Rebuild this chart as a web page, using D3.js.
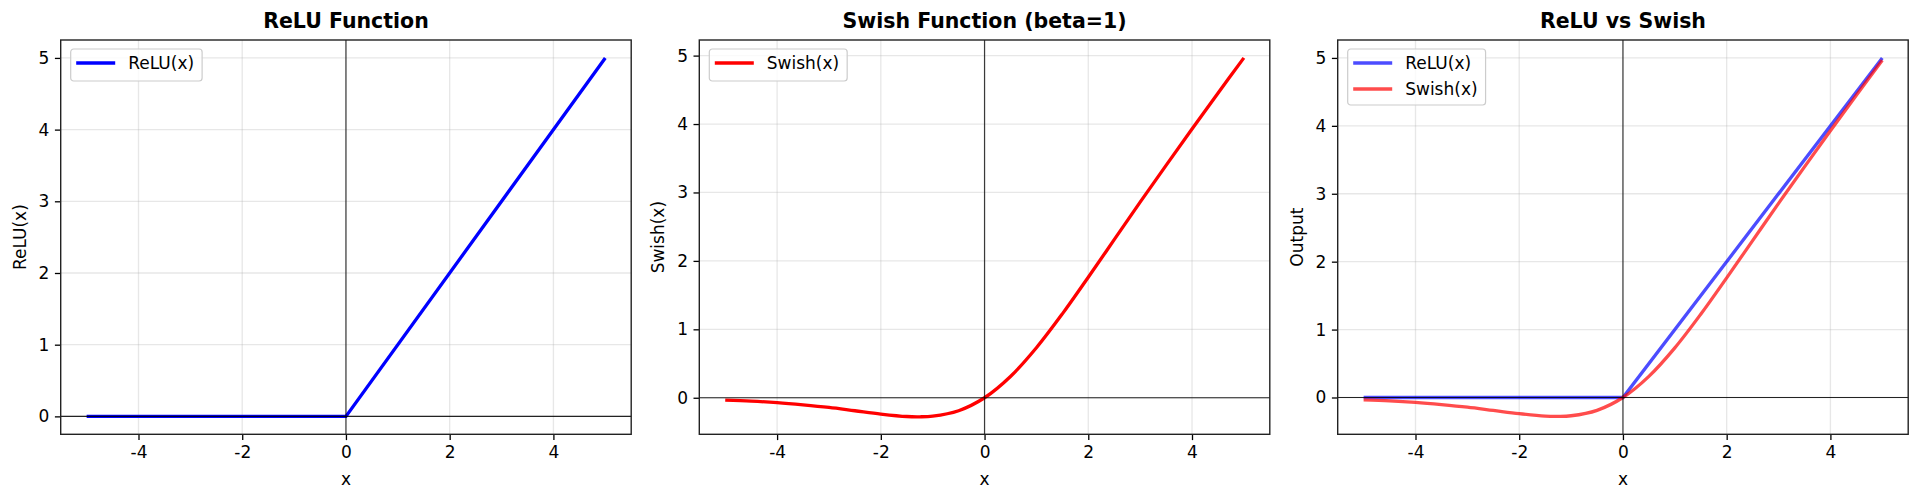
<!DOCTYPE html>
<html lang="en">
<head>
<meta charset="UTF-8">
<title>ReLU vs Swish</title>
<script src="https://d3js.org/d3.v7.min.js"></script>
<style>
    body { margin: 0; background: #fff; }
    text { font-family: "DejaVu Sans", sans-serif; fill: #000; }
    .title { font-size: 20.5px; font-weight: bold; }
    .tick text { font-size: 17px; }
    .lab { font-size: 17px; }
    .leg { font-size: 17px; }
</style>
</head>
<body>
<script>
// x samples and values
var xReLU = [-5, 0, 5];
var yReLU = [0, 0, 5];

var xSwish = [-5, -4.5, -4, -3.5, -3, -2.5, -2, -1.5, -1.25, -1, -0.5, 0, 0.5, 1, 1.5, 2, 2.5, 3, 3.5, 4, 4.5, 5];
var ySwish = [-0.034, -0.049, -0.072, -0.104, -0.142, -0.190, -0.238, -0.274, -0.278, -0.269, -0.189, 0, 0.311, 0.731, 1.226, 1.762, 2.310, 2.858, 3.396, 3.928, 4.451, 4.967];

var xTicks = [-4, -2, 0, 2, 4];
var yTicks = [0, 1, 2, 3, 4, 5];

var titles = ["ReLU Function", "Swish Function (beta=1)", "ReLU vs Swish"];
var yLabels = ["ReLU(x)", "Swish(x)", "Output"];

var width = 1920, height = 502;
var top0 = 40, bottom0 = 434.3, pw = 570.5;
var lefts = [60.7, 699.3, 1337.7];

var relu = xReLU.map(function (d, i) { return [d, yReLU[i]]; });
var swish = xSwish.map(function (d, i) { return [d, ySwish[i]]; });

// which series go in each panel
var panels = [
    { series: [{ name: "ReLU(x)", data: relu, color: "#0000ff", op: 1, smooth: false }], ydom: [-0.25, 5.25] },
    { series: [{ name: "Swish(x)", data: swish, color: "#ff0000", op: 1, smooth: true }], ydom: [-0.534, 5.228] },
    { series: [{ name: "ReLU(x)", data: relu, color: "#0000ff", op: 0.7, smooth: false },
               { name: "Swish(x)", data: swish, color: "#ff0000", op: 0.7, smooth: true }], ydom: [-0.542, 5.264] }
];

var svg = d3.select("body").append("svg")
    .attr("width", width)
    .attr("height", height);

panels.forEach(function (p, k) {
    var x = d3.scaleLinear().domain([-5.5, 5.5]).range([0, pw]);
    var y = d3.scaleLinear().domain(p.ydom).range([bottom0 - top0, 0]);
    var ih = bottom0 - top0;

    var g = svg.append("g").attr("transform", "translate(" + lefts[k] + "," + top0 + ")");

    // grid
    g.selectAll(".gx").data(xTicks).enter().append("line")
        .attr("x1", d => x(d)).attr("x2", d => x(d))
        .attr("y1", 0).attr("y2", ih)
        .attr("stroke", "#b0b0b0").attr("stroke-opacity", 0.3).attr("stroke-width", 1.3);
    g.selectAll(".gy").data(yTicks).enter().append("line")
        .attr("x1", 0).attr("x2", pw)
        .attr("y1", d => y(d)).attr("y2", d => y(d))
        .attr("stroke", "#b0b0b0").attr("stroke-opacity", 0.3).attr("stroke-width", 1.3);

    var straight = d3.line().x(d => x(d[0])).y(d => y(d[1]));
    var smooth = d3.line().x(d => x(d[0])).y(d => y(d[1])).curve(d3.curveCatmullRom.alpha(0.5));

    p.series.forEach(function (s) {
        g.append("path")
            .attr("d", s.smooth ? smooth(s.data) : straight(s.data))
            .attr("fill", "none")
            .attr("stroke", s.color)
            .attr("stroke-opacity", s.op)
            .attr("stroke-width", 3.3);
    });

    // zero lines
    g.append("line").attr("x1", 0).attr("x2", pw).attr("y1", y(0)).attr("y2", y(0))
        .attr("stroke", "#000").attr("stroke-width", 1.2).attr("stroke-opacity", 0.85);
    g.append("line").attr("x1", x(0)).attr("x2", x(0)).attr("y1", 0).attr("y2", ih)
        .attr("stroke", "#000").attr("stroke-width", 1.2).attr("stroke-opacity", 0.75);

    // axes
    var xa = d3.axisBottom(x).tickValues(xTicks).tickFormat(d => String(d)).tickSize(5.8).tickPadding(5.5);
    var ya = d3.axisLeft(y).tickValues(yTicks).tickFormat(d => String(d)).tickSize(5.8).tickPadding(5.5);
    var gx = g.append("g").attr("transform", "translate(0," + ih + ")").call(xa);
    var gy = g.append("g").call(ya);
    [gx, gy].forEach(function (a) {
        a.select(".domain").remove();
        a.selectAll(".tick line").attr("stroke", "#000").attr("stroke-width", 1.3);
        a.selectAll(".tick text").attr("fill", "#000");
    });

    // frame
    g.append("rect").attr("width", pw).attr("height", ih)
        .attr("fill", "none").attr("stroke", "#222").attr("stroke-width", 1.4);

    // labels
    svg.append("text").attr("class", "title")
        .attr("x", lefts[k] + pw / 2).attr("y", 27.5)
        .attr("text-anchor", "middle").text(titles[k]);
    svg.append("text").attr("class", "lab")
        .attr("x", lefts[k] + pw / 2).attr("y", 485)
        .attr("text-anchor", "middle").text("x");
    svg.append("text").attr("class", "lab")
        .attr("transform", "translate(" + (lefts[k] - 35) + "," + (top0 + ih / 2) + ") rotate(-90)")
        .attr("text-anchor", "middle").text(yLabels[k]);

    // legend
    var lg = g.append("g").attr("transform", "translate(10,9)");
    var box = lg.append("rect")
        .attr("fill", "#fff").attr("fill-opacity", 0.8)
        .attr("stroke", "#cccccc").attr("stroke-width", 1.2)
        .attr("rx", 3);
    var maxw = 0;
    p.series.forEach(function (s, i) {
        var yy = 14 + i * 26;
        lg.append("line").attr("x1", 5.5).attr("x2", 44.5).attr("y1", yy).attr("y2", yy)
            .attr("stroke", s.color).attr("stroke-opacity", s.op).attr("stroke-width", 3.3);
        var t = lg.append("text").attr("class", "leg")
            .attr("x", 57.5).attr("y", yy).attr("dy", "0.36em").text(s.name);
        maxw = Math.max(maxw, t.node().getComputedTextLength());
    });
    box.attr("width", 57.5 + maxw + 8).attr("height", 32 + (p.series.length - 1) * 24);
});
</script>
</body>
</html>
